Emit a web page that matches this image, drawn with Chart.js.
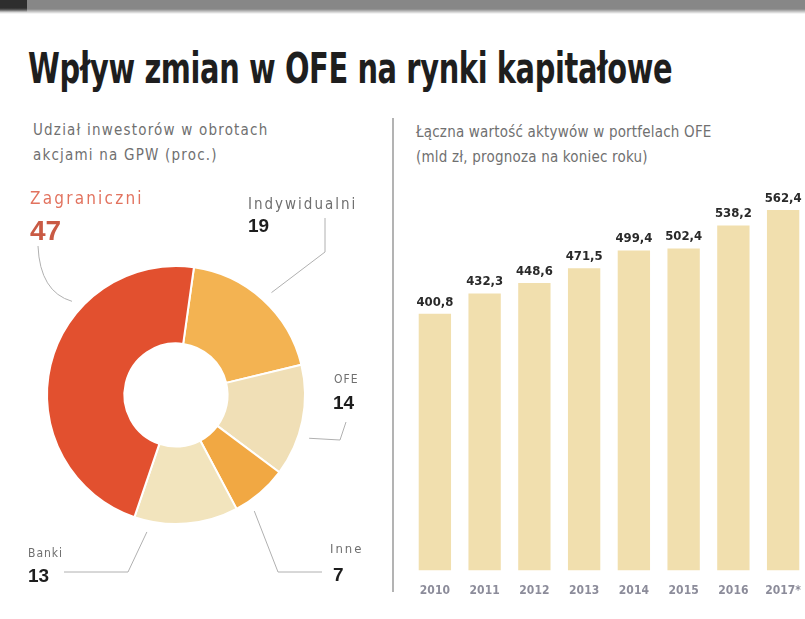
<!DOCTYPE html>
<html lang="pl">
<head>
<meta charset="utf-8">
<title>Wpływ zmian w OFE na rynki kapitałowe</title>
<script src="https://cdn.jsdelivr.net/npm/chart.js@4.4.1/dist/chart.umd.min.js"></script>
<style>
  html, body { margin: 0; padding: 0; background: #fff; }
  body { width: 805px; height: 619px; position: relative; overflow: hidden;
         font-family: 'DejaVu Sans Condensed', 'Liberation Sans', sans-serif; }
  .topbar { position: absolute; left: 0; top: 0; width: 805px; height: 14px;
            background: linear-gradient(#878787 0, #878787 9px, #fff 14px); }
  .topbar .block { position: absolute; left: 0; top: 0; width: 27px; height: 12px;
                   background: linear-gradient(#2e2e2e 0, #2e2e2e 8px, rgba(255,255,255,0) 12px); }
  .title { position: absolute; left: 28px; top: 44px; font-weight: bold; font-size: 42px;
           color: #1e1e1e; white-space: nowrap; transform-origin: left top; letter-spacing: -0.5px; }
  .sub { position: absolute; font-size: 15px; line-height: 25px; color: #707070; white-space: nowrap; }
  .sep { position: absolute; left: 392px; top: 118px; width: 2px; height: 474px; background: #b3b3b3; }
  canvas { position: absolute; }
</style>
</head>
<body>
<div class="topbar"><div class="block"></div></div>
<div class="title" id="title">Wpływ zmian w OFE na rynki kapitałowe</div>
<div class="sub" style="left:33px; top:118px; letter-spacing:1.2px;">Udział inwestorów w obrotach<br>akcjami na GPW (proc.)</div>
<div class="sub" style="left:416px; top:120px; letter-spacing:0.2px;">Łączna wartość aktywów w portfelach OFE<br>(mld zł, prognoza na koniec roku)</div>
<div class="sep"></div>

<div style="position:absolute; left:0; top:0; width:390px; height:619px;">
  <canvas id="shareChart"></canvas>
</div>
<div style="position:absolute; left:400px; top:0; width:410px; height:619px;">
  <canvas id="assetChart"></canvas>
</div>

<script>
'use strict';

// Data: left doughnut (share of turnover, %)
let shareLabels = ['Indywidualni', 'OFE', 'Inne', 'Banki', 'Zagraniczni'];
let shareValues = [19, 14, 7, 13, 47];

// Data: right bars (OFE assets, bn zł)
let years = ['2010', '2011', '2012', '2013', '2014', '2015', '2016', '2017*'];
let assetValues = [400.8, 432.3, 448.6, 471.5, 499.4, 502.4, 538.2, 562.4];

// Styles
let shareColors = ['#f3b352', '#f0dfb6', '#f1a843', '#f2e4bd', '#e2502f'];
let barColor = '#f1dfae';

// Title stretched to the width it has in the picture
let title = document.getElementById('title');
title.style.transform = 'scaleX(' + (644 / title.offsetWidth) + ')';

// Label placement for the doughnut (angle in degrees from 12 o'clock, then leader path)
let shareCallouts = [
  { angle: 43, path: [[325, 252], [325, 218]], name: [248, 209], value: [248, 232], nameColor: '#6f6f6f', valueColor: '#1d1d1d', nameSize: 15, spacing: 2, valueSize: 19 },
  { angle: 108, path: [[340, 440], [346, 422]], name: [334, 383], value: [333, 409], nameColor: '#6f6f6f', valueColor: '#1d1d1d', nameSize: 12, spacing: 1, valueSize: 19 },
  { angle: 146, path: [[278, 572], [322, 572]], name: [330, 553], value: [333, 581], nameColor: '#6f6f6f', valueColor: '#1d1d1d', nameSize: 13, spacing: 2, valueSize: 19 },
  { angle: 192, path: [[128, 572], [64, 572]], name: [28, 557], value: [28, 582], nameColor: '#6f6f6f', valueColor: '#1d1d1d', nameSize: 12, spacing: 1, valueSize: 19 },
  { angle: 312, curve: [40, 292], path: [[38, 246]], name: [30, 204], value: [30, 240], nameColor: '#e2735f', valueColor: '#c95a44', nameSize: 17, spacing: 2.2, valueSize: 28 }
];

let calloutPlugin = {
  id: 'callouts',
  afterDraw: function (chart) {
    let ctx = chart.ctx;
    let arcs = chart.getDatasetMeta(0).data;
    ctx.save();
    for (let i = 0; i < arcs.length; i++) {
      let c = shareCallouts[i];
      let arc = arcs[i];
      let a = c.angle * Math.PI / 180;
      let r = arc.outerRadius + 11;
      let sx = arc.x + r * Math.sin(a);
      let sy = arc.y - r * Math.cos(a);

      ctx.strokeStyle = '#b0b0b0';
      ctx.lineWidth = 1;
      ctx.beginPath();
      ctx.moveTo(sx, sy);
      if (c.curve) {
        ctx.quadraticCurveTo(c.curve[0], c.curve[1], c.path[0][0], c.path[0][1]);
      } else {
        for (let p = 0; p < c.path.length; p++) {
          ctx.lineTo(c.path[p][0], c.path[p][1]);
        }
      }
      ctx.stroke();

      ctx.textAlign = 'left';
      ctx.textBaseline = 'alphabetic';
      ctx.fillStyle = c.nameColor;
      ctx.letterSpacing = c.spacing + 'px';
      ctx.font = c.nameSize + "px 'DejaVu Sans Condensed', sans-serif";
      ctx.fillText(chart.data.labels[i], c.name[0], c.name[1]);
      ctx.letterSpacing = '0px';
      ctx.fillStyle = c.valueColor;
      ctx.font = 'bold ' + c.valueSize + "px 'Liberation Sans', 'DejaVu Sans', sans-serif";
      ctx.fillText(String(chart.data.datasets[0].data[i]), c.value[0], c.value[1]);
    }
    ctx.restore();
  }
};

new Chart(document.getElementById('shareChart'), {
  type: 'doughnut',
  data: {
    labels: shareLabels,
    datasets: [{
      data: shareValues,
      backgroundColor: shareColors,
      borderColor: '#ffffff',
      borderWidth: 2
    }]
  },
  options: {
    responsive: true,
    maintainAspectRatio: false,
    animation: false,
    rotation: 8,
    cutout: '40%',
    layout: { padding: { left: 46, right: 84, top: 265, bottom: 94 } },
    plugins: { legend: { display: false }, tooltip: { enabled: false } }
  },
  plugins: [calloutPlugin]
});

// Value labels above every bar
let barLabelPlugin = {
  id: 'barLabels',
  afterDatasetsDraw: function (chart) {
    let ctx = chart.ctx;
    let bars = chart.getDatasetMeta(0).data;
    ctx.save();
    ctx.fillStyle = '#2a2a2a';
    ctx.font = "bold 13px 'DejaVu Sans Condensed', sans-serif";
    ctx.textAlign = 'center';
    ctx.textBaseline = 'bottom';
    for (let i = 0; i < bars.length; i++) {
      let txt = chart.data.datasets[0].data[i].toFixed(1).replace('.', ',');
      ctx.fillText(txt, bars[i].x, bars[i].y - 5);
    }
    ctx.restore();
  }
};

new Chart(document.getElementById('assetChart'), {
  type: 'bar',
  data: {
    labels: years,
    datasets: [{
      data: assetValues,
      backgroundColor: barColor,
      borderWidth: 0,
      barPercentage: 0.65,
      categoryPercentage: 1
    }]
  },
  options: {
    responsive: true,
    maintainAspectRatio: false,
    animation: false,
    layout: { padding: { left: 10, right: 2, top: 186, bottom: 16 } },
    scales: {
      x: {
        grid: { display: false },
        border: { display: false },
        ticks: {
          color: '#8c8c9a',
          padding: 5,
          maxRotation: 0,
          autoSkip: false,
          font: { family: "'DejaVu Sans Condensed', sans-serif", size: 12, weight: 'bold' }
        }
      },
      y: {
        display: false,
        min: 0,
        max: 600
      }
    },
    plugins: { legend: { display: false }, tooltip: { enabled: false } }
  },
  plugins: [barLabelPlugin]
});
</script>
</body>
</html>
